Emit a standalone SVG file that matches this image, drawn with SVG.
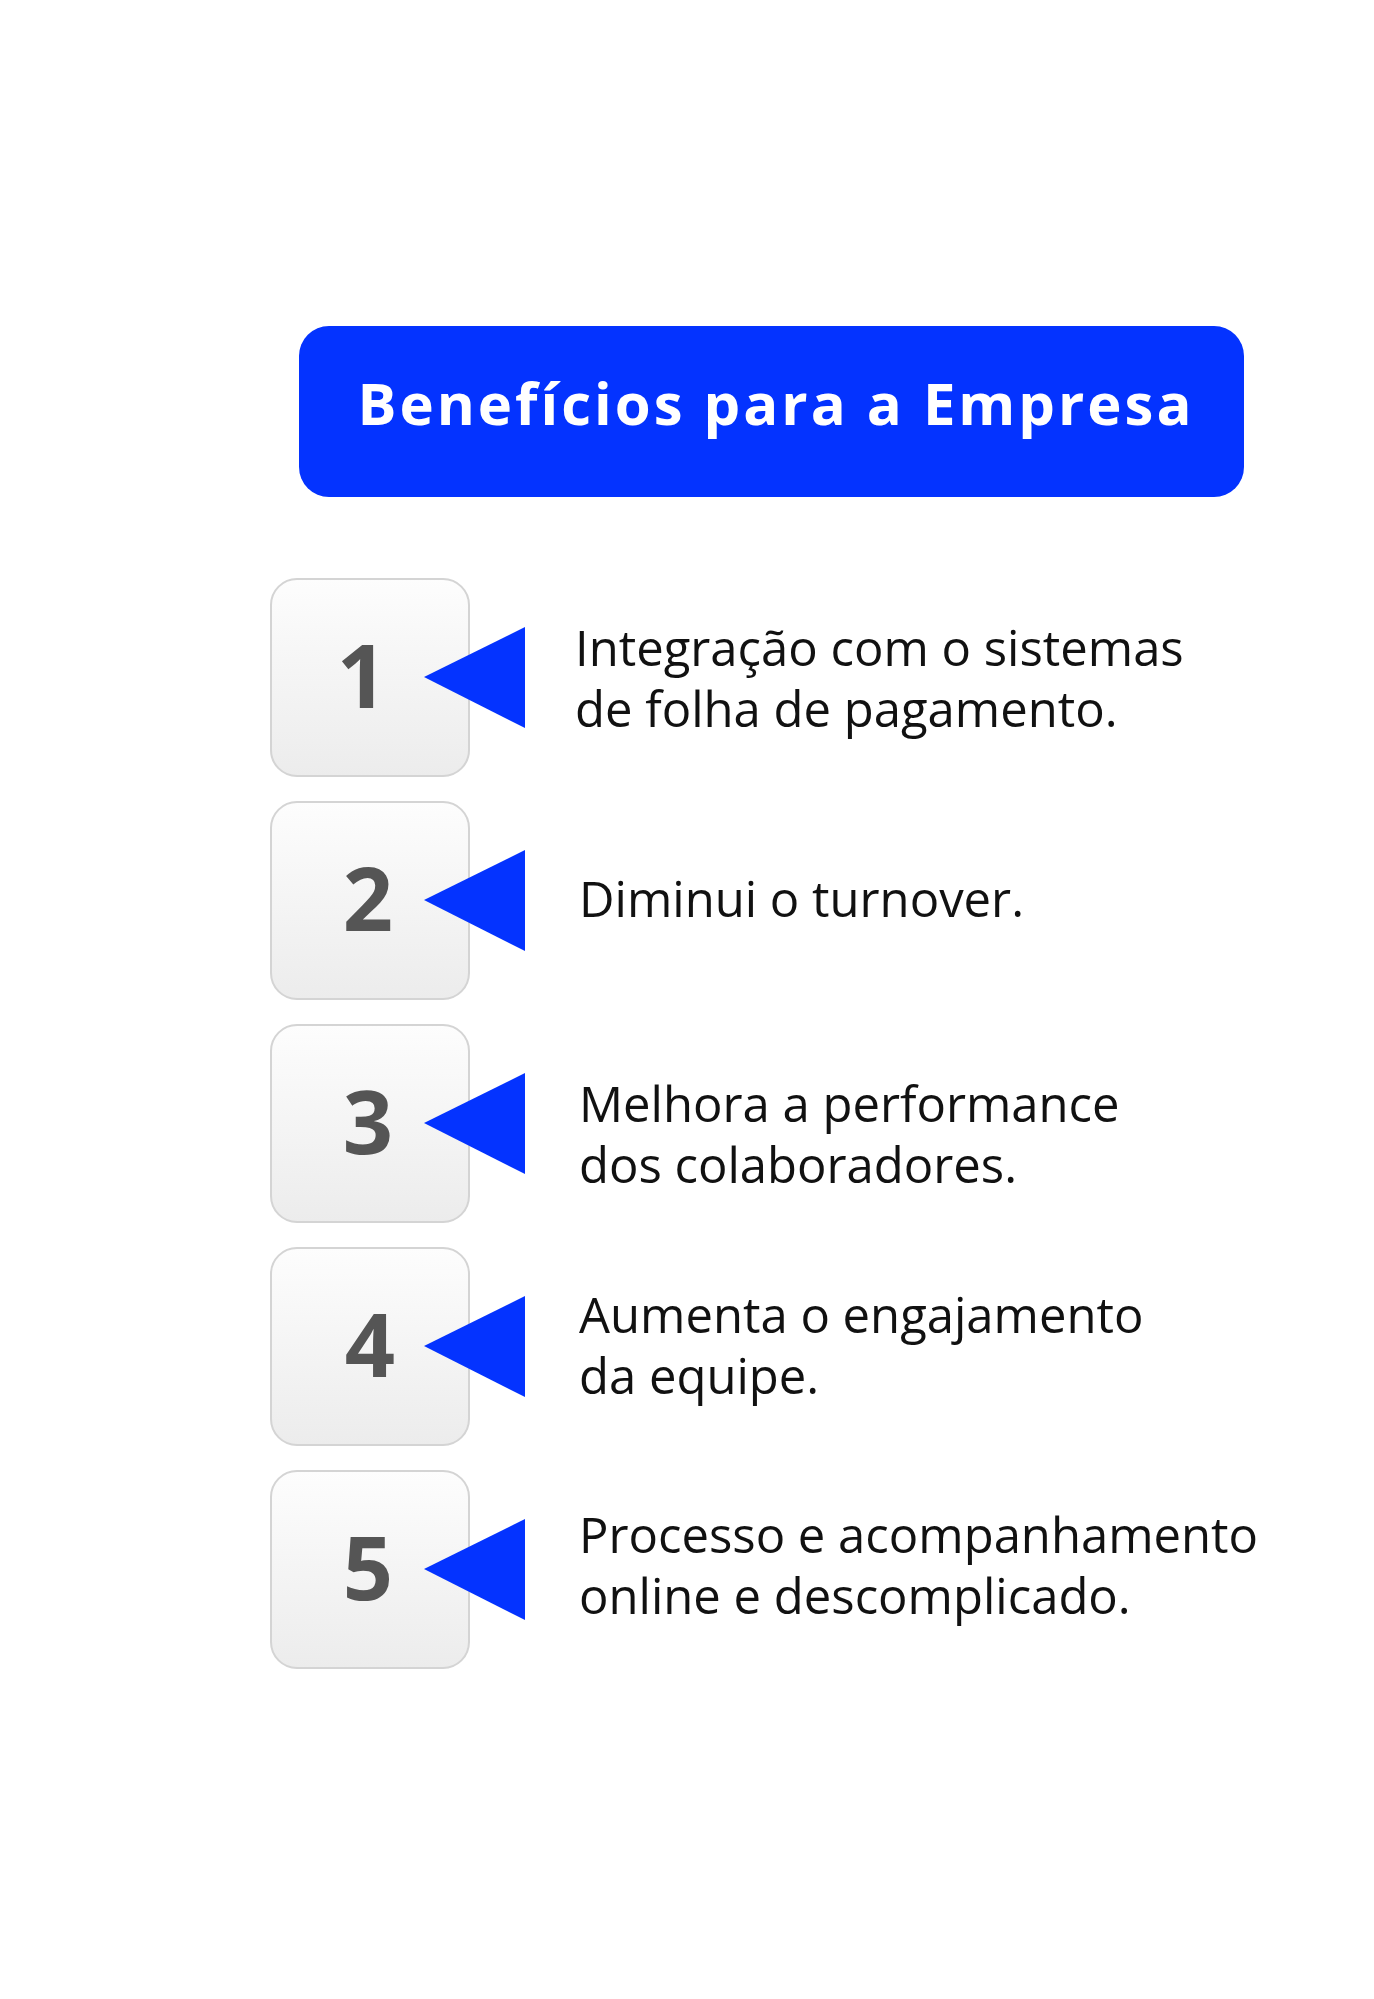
<svg xmlns="http://www.w3.org/2000/svg" width="1374" height="1999" viewBox="0 0 1374 1999">
<defs>
<linearGradient id="g" x1="0" y1="0" x2="0" y2="1"><stop offset="0" stop-color="#fdfdfd"/><stop offset="1" stop-color="#ececec"/></linearGradient>
<style>
.box{fill:url(#g);stroke:#d4d4d4;stroke-width:2}
.num{font-family:"Open Sans","Liberation Sans",sans-serif;font-weight:700;font-size:88px;fill:#555;text-anchor:middle}
.tri{fill:#0433ff}
.t{font-family:"Open Sans","Liberation Sans",sans-serif;font-size:49px;fill:#111}
</style>
</defs>
<rect width="1374" height="1999" fill="#fff"/>
<g id="header"><rect x="299" y="326" width="945" height="171" rx="30" fill="#0433ff"/>
<text x="776" y="425" text-anchor="middle" font-family="'Open Sans','Liberation Sans',sans-serif" font-weight="700" font-size="58" letter-spacing="3" fill="#fff">Benefícios para a Empresa</text></g>
<g id="n1"><rect class="box" x="271" y="579" width="198" height="197" rx="26"/><text class="num" x="362" y="708">1</text><polygon class="tri" points="424,677 525,627 525,728"/><text class="t" x="575" y="666">Integração com o sistemas</text><text class="t" x="575" y="727">de folha de pagamento.</text></g>
<g id="n2"><rect class="box" x="271" y="802" width="198" height="197" rx="26"/><text class="num" x="368" y="931">2</text><polygon class="tri" points="424,900 525,850 525,951"/><text class="t" x="579" y="917">Diminui o turnover.</text></g>
<g id="n3"><rect class="box" x="271" y="1025" width="198" height="197" rx="26"/><text class="num" x="368" y="1154">3</text><polygon class="tri" points="424,1123 525,1073 525,1174"/><text class="t" x="579" y="1122">Melhora a performance</text><text class="t" x="579" y="1183">dos colaboradores.</text></g>
<g id="n4"><rect class="box" x="271" y="1248" width="198" height="197" rx="26"/><text class="num" x="370" y="1377">4</text><polygon class="tri" points="424,1346 525,1296 525,1397"/><text class="t" x="579" y="1333">Aumenta o engajamento</text><text class="t" x="579" y="1394">da equipe.</text></g>
<g id="n5"><rect class="box" x="271" y="1471" width="198" height="197" rx="26"/><text class="num" x="368" y="1600">5</text><polygon class="tri" points="424,1569 525,1519 525,1620"/><text class="t" x="579" y="1553">Processo e acompanhamento</text><text class="t" x="579" y="1614">online e descomplicado.</text></g>
<g id="connectors"/>
</svg>
